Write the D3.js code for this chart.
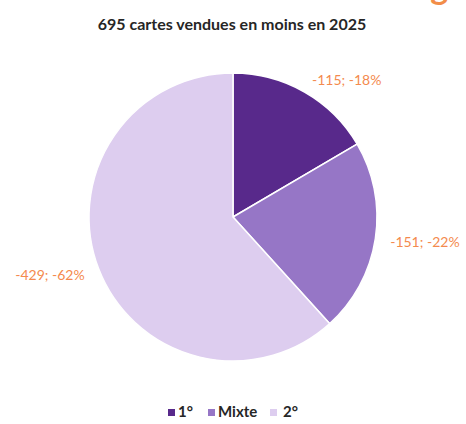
<!DOCTYPE html>
<html>
<head>
<meta charset="utf-8">
<script src="https://cdn.jsdelivr.net/npm/d3@7"></script>
<style>
  body { margin: 0; background: #fff; }
  svg { display: block; }
</style>
</head>
<body>
<svg width="466" height="424"></svg>
<script>
// categories and values
var categories = ['1°', 'Mixte', '2°'];
var values = [115, 151, 429];
var percents = [18, 22, 62];
var colors = ['#58298b', '#9676c6', '#ddcdef'];
var title = '695 cartes vendues en moins en 2025';

var svg = d3.select('svg');
var W = 466, H = 424;
var cx = 233, cy = 217, radius = 144;

// cropped logo fragment at the top right (only the descender shows)
svg.append('text')
    .attr('x', 466).attr('y', -1)
    .attr('text-anchor', 'end')
    .attr('font-family', 'Lato, sans-serif')
    .attr('font-weight', 'bold')
    .attr('font-size', 34)
    .attr('fill', '#f07a2a')
    .attr('opacity', 0.85)
    .text('age');

svg.append('text')
    .attr('x', 232).attr('y', 30)
    .attr('text-anchor', 'middle')
    .attr('font-family', 'Lato, sans-serif')
    .attr('font-weight', 'bold')
    .attr('font-size', 16)
    .attr('fill', '#262626')
    .text(title);

var data = categories.map(function (c, i) {
    return { cat: c, value: values[i], pct: percents[i], color: colors[i] };
});

var pie = d3.pie().sort(null).value(function (d) { return d.value; });
var arc = d3.arc().innerRadius(0).outerRadius(radius);
var labelArc = d3.arc().innerRadius(159).outerRadius(159);

var g = svg.append('g').attr('transform', 'translate(' + cx + ',' + cy + ')');

var arcs = pie(data);

g.selectAll('path.slice')
    .data(arcs)
    .enter()
    .append('path')
    .attr('class', 'slice')
    .attr('d', arc)
    .attr('fill', function (d) { return d.data.color; })
    .attr('stroke', '#fff')
    .attr('stroke-width', 1.5);

// data labels, outside the pie
g.selectAll('text.lab')
    .data(arcs)
    .enter()
    .append('text')
    .attr('class', 'lab')
    .attr('transform', function (d) {
        var c = labelArc.centroid(d);
        return 'translate(' + c[0] + ',' + (c[1] + 2) + ')';
    })
    .attr('text-anchor', function (d) {
        var mid = (d.startAngle + d.endAngle) / 2;
        return mid < Math.PI ? 'start' : 'end';
    })
    .attr('dominant-baseline', 'middle')
    .attr('font-family', 'Lato, sans-serif')
    .attr('font-size', 14)
    .attr('fill', '#f48a4e')
    .text(function (d) { return '-' + d.data.value + '; -' + d.data.pct + '%'; });

// legend
var legend = svg.append('g').attr('transform', 'translate(0,413)');
var legX = [168, 208, 270];
var items = legend.selectAll('g')
    .data(data)
    .enter()
    .append('g')
    .attr('transform', function (d, i) { return 'translate(' + legX[i] + ',0)'; });

items.append('rect')
    .attr('x', 0).attr('y', -4)
    .attr('width', 7).attr('height', 7)
    .attr('fill', function (d) { return d.color; });

items.append('text')
    .attr('x', function (d, i) { return i == 2 ? 13 : 10; })
    .attr('y', 0)
    .attr('dominant-baseline', 'middle')
    .attr('font-family', 'Lato, sans-serif')
    .attr('font-weight', 'bold')
    .attr('font-size', 15)
    .attr('fill', '#262626')
    .text(function (d) { return d.cat; });
</script>
</body>
</html>
